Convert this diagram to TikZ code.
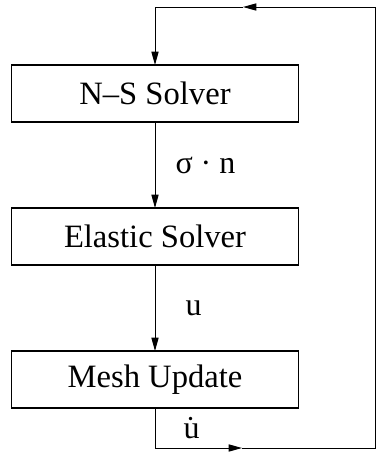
\documentclass[tikz,border=0pt]{standalone}
\usepackage{fontspec}
\setmainfont{Liberation Serif}
\usetikzlibrary{arrows.meta}
\usetikzlibrary{positioning}

\begin{document}
\begin{tikzpicture}[
				node distance=43pt,
				solver/.style = {rectangle, draw, line width=0.6pt,% boxes of the loop
					minimum width=143.5pt, minimum height=28.5pt,
					inner sep=0pt, outer sep=0pt, font=\fontsize{16.3}{19}\selectfont},
				flow/.style = {line width=0.5pt,
					-{Triangle[length=6.7pt,width=3.6pt]}},
				lbl/.style = {inner sep=0pt, font=\fontsize{16}{19}\selectfont},
				]
				\useasboundingbox (0,0) rectangle (188pt,-230.5pt);
				\node (ns) [solver] at (77.5pt,-46.75pt) {N–S Solver};
				\node (es) [solver, below=of ns] {Elastic Solver};
				\node (mu) [solver, below=of es] {Mesh Update};
				% corners of the feedback loop
				\coordinate (bm) at (121pt,-224pt);
				\coordinate (br) at (187.5pt,-224pt);
				\coordinate (tr) at (187.5pt,-3.5pt);
				\coordinate (tm) at (121.5pt,-3.5pt);
				\coordinate (bl) at (mu.south |- br);
				\coordinate (tl) at (ns.north |- tr);
				\draw[flow] (ns) -- node[lbl, right=10pt] {σ · n} (es);
				\draw[flow] (es) -- node[lbl, right=15pt] {u} (mu);
				\draw[flow] (mu) -- node[lbl, right=14pt] {\.{u}} (bl) -- (bm);
				\draw[flow] (bm) -- (br) -- (tr) -- (tm);
				\draw[flow] (tm) -- (tl) -- (ns);
			\end{tikzpicture}
\end{document}
